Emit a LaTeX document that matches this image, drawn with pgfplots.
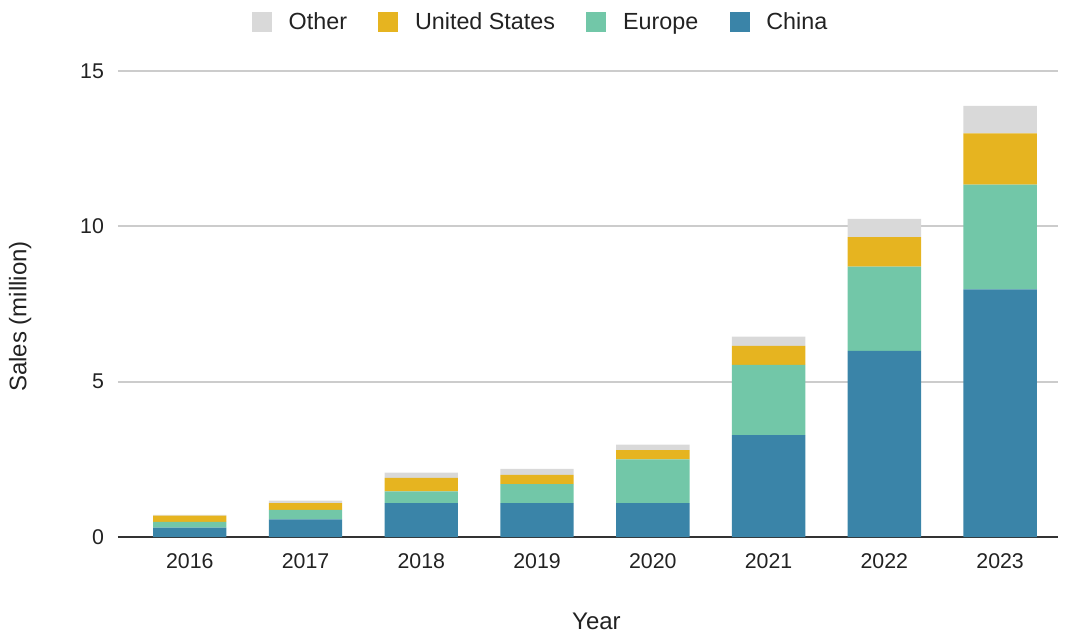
\documentclass[border=0pt]{standalone}
\usepackage{pgfplots}
\pgfplotsset{compat=1.18}
\usepackage{fontspec}
\setmainfont{Liberation Sans}
\definecolor{cChina}{HTML}{3A84A8}
\definecolor{cEurope}{HTML}{72C7A8}
\definecolor{cUS}{HTML}{E6B420}
\definecolor{cOther}{HTML}{D9D9D9}
\definecolor{cText}{HTML}{222222}
\begin{document}
\begin{tikzpicture}[x=1pt,y=1pt,font=\fontsize{16}{19}\selectfont]
\path[use as bounding box] (-88.5,-72) rectangle (711,402.75);
\begin{axis}[
  at={(0,0)}, anchor=south west,
  scale only axis, width=705pt, height=349.5pt,
  ybar stacked, bar width=55pt,
  xmin=-0.62, xmax=7.5, ymin=0, ymax=15,
  xtick={0,...,7},
  xticklabels={2016,2017,2018,2019,2020,2021,2022,2023},
  ytick={0,5,10,15},
  ymajorgrids, grid style={draw=black!20, line width=1.5pt},
  axis line style={draw=none},
  major tick length=0pt,
  tick label style={text=cText, font=\fontsize{16}{19}\selectfont},
  /pgf/number format/assume math mode=true,
  yticklabel style={xshift=-7pt},
  xticklabel style={yshift=-9pt},
  xlabel={Year}, ylabel={Sales (million)},
  label style={text=cText, font=\fontsize{18}{21}\selectfont},
  xlabel style={at={(axis description cs:0.509,-0.181)}, anchor=center},
  ylabel style={at={(axis description cs:-0.104,0.473)}, anchor=center},
  legend columns=-1,
  reverse legend,
  legend style={at={(axis description cs:0.45,1.105)}, anchor=center, draw=none, fill=none,
    font=\fontsize{17.5}{20}\selectfont,
    /tikz/every odd column/.append style={column sep=10.5pt},
    /tikz/every even column/.append style={column sep=21.5pt}, text=cText},
  legend image code/.code={\fill[#1] (0pt,-7.5pt) rectangle (15pt,7.5pt);},
]
\addplot[fill=cChina, draw=none] coordinates {(0,0.30) (1,0.57) (2,1.09) (3,1.09) (4,1.09) (5,3.28) (6,5.99) (7,7.97)};
\addplot[fill=cEurope, draw=none] coordinates {(0,0.19) (1,0.30) (2,0.38) (3,0.61) (4,1.41) (5,2.26) (6,2.71) (7,3.37)};
\addplot[fill=cUS, draw=none] coordinates {(0,0.20) (1,0.22) (2,0.43) (3,0.30) (4,0.30) (5,0.61) (6,0.95) (7,1.65)};
\addplot[fill=cOther, draw=none] coordinates {(0,0.02) (1,0.08) (2,0.17) (3,0.19) (4,0.17) (5,0.30) (6,0.59) (7,0.89)};
\legend{China,Europe,United States,Other}
\draw[black!80, line width=1.2pt] (rel axis cs:0,0) -- (rel axis cs:1,0);
\end{axis}
\end{tikzpicture}
\end{document}
